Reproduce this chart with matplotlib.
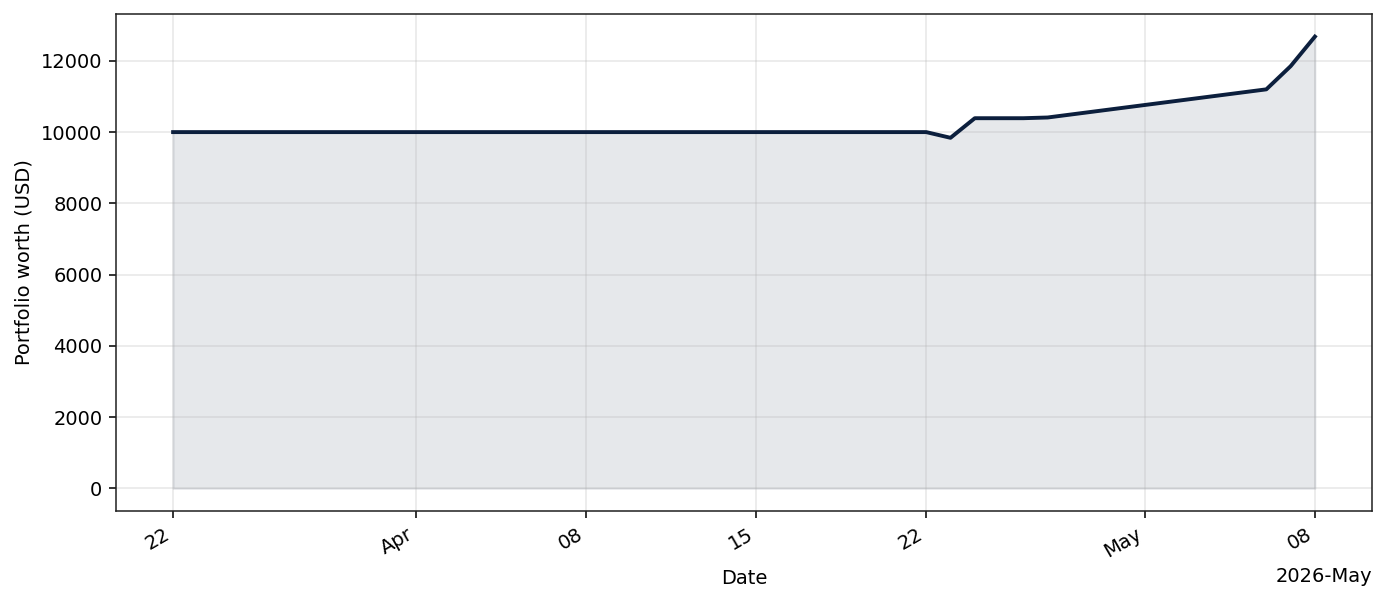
import matplotlib
matplotlib.use("Agg")
import matplotlib.dates as mdates
import matplotlib.pyplot as plt
import numpy as np
import pandas as pd

# portfolio snapshots
dates = ["2026-03-22", "2026-04-22", "2026-04-23", "2026-04-24", "2026-04-26",
         "2026-04-27", "2026-05-06", "2026-05-07", "2026-05-08"]
worth = [10000, 10000, 9840, 10390, 10390, 10410, 11200, 11850, 12680]

LINE_COLOR = "#0c1f3d"

x = pd.to_datetime(dates)
y = np.array(worth, dtype=float)

fig, ax = plt.subplots(figsize=(9.9, 4.3), dpi=140)
ax.plot(x, y, color=LINE_COLOR, linewidth=2)
ax.fill_between(x, y, 0, color=LINE_COLOR, alpha=0.1)

locator = mdates.AutoDateLocator()
ax.xaxis.set_major_locator(locator)
ax.xaxis.set_major_formatter(mdates.ConciseDateFormatter(locator))

ax.set_xlabel("Date")
ax.set_ylabel("Portfolio worth (USD)")
ax.grid(True, alpha=0.3)
for spine in ax.spines.values():
    spine.set_color("#222222")
fig.autofmt_xdate()
fig.subplots_adjust(left=0.0837, right=0.9899, top=0.9767, bottom=0.1512)
fig.savefig("out.png", dpi=140)
